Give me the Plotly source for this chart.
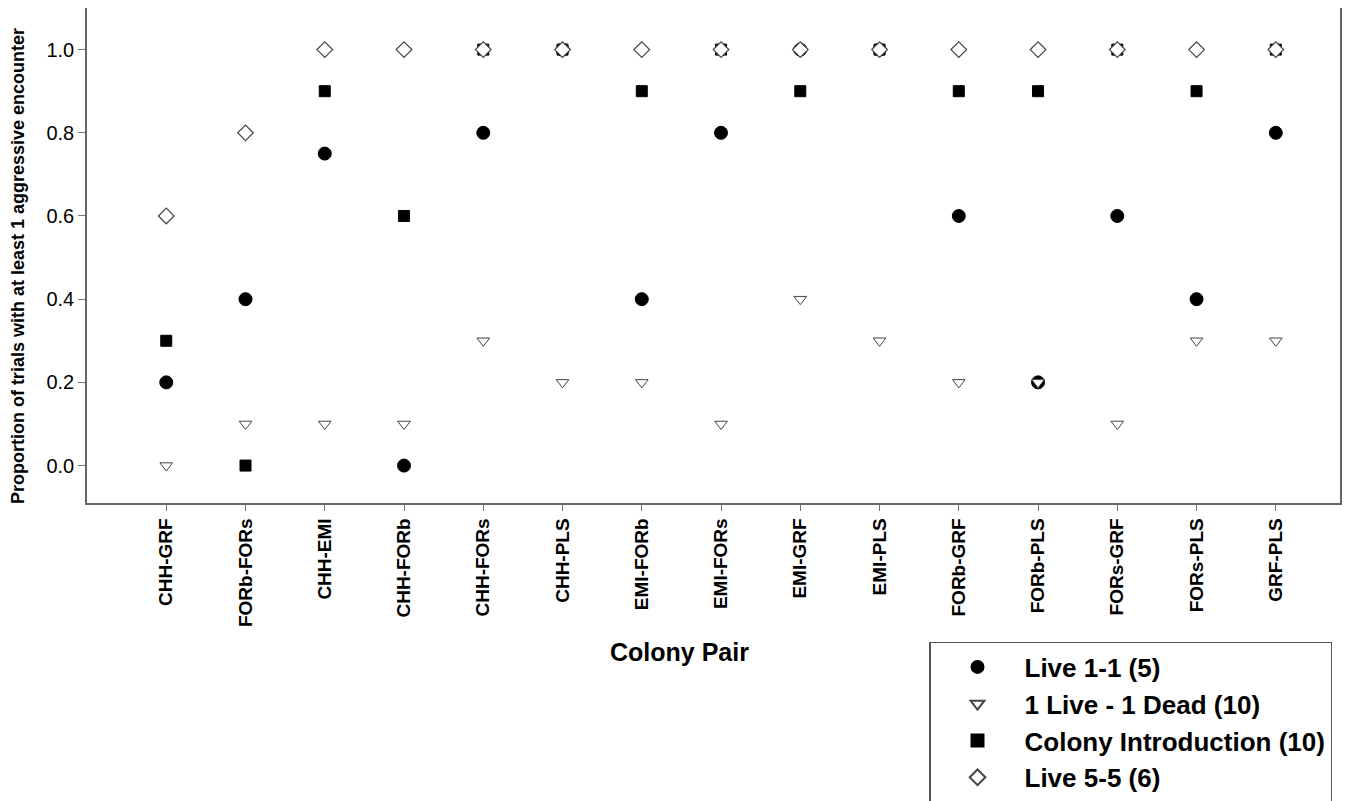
import plotly.graph_objects as go

pairs = ["CHH-GRF", "FORb-FORs", "CHH-EMI", "CHH-FORb", "CHH-FORs", "CHH-PLS",
         "EMI-FORb", "EMI-FORs", "EMI-GRF", "EMI-PLS", "FORb-GRF", "FORb-PLS",
         "FORs-GRF", "FORs-PLS", "GRF-PLS"]
live_1_1 = [0.2, 0.4, 0.75, 0.0, 0.8, 1.0, 0.4, 0.8, 1.0, 1.0, 0.6, 0.2, 0.6, 0.4, 0.8]
live_dead = [0.0, 0.1, 0.1, 0.1, 0.3, 0.2, 0.2, 0.1, 0.4, 0.3, 0.2, 0.2, 0.1, 0.3, 0.3]
colony_intro = [0.3, 0.0, 0.9, 0.6, 1.0, 1.0, 0.9, 1.0, 0.9, 1.0, 0.9, 0.9, 1.0, 0.9, 1.0]
live_5_5 = [0.6, 0.8, 1.0, 1.0, 1.0, 1.0, 1.0, 1.0, 1.0, 1.0, 1.0, 1.0, 1.0, 1.0, 1.0]

names = ["Live 1-1 (5)", "1 Live - 1 Dead (10)", "Colony Introduction (10)", "Live 5-5 (6)"]
yticks = [0.0, 0.2, 0.4, 0.6, 0.8, 1.0]

xi = list(range(len(pairs)))
FONT = "Arial, Liberation Sans, sans-serif"

fig = go.Figure()
# draw order: circle, square, triangle, diamond ; legend order via legendrank
fig.add_trace(go.Scatter(x=xi, y=live_1_1, mode="markers", name=names[0], legendrank=1,
                         marker=dict(symbol="circle", size=13, color="black",
                                     line=dict(color="black", width=1))))
fig.add_trace(go.Scatter(x=xi, y=colony_intro, mode="markers", name=names[2], legendrank=3,
                         marker=dict(symbol="square", size=11, color="black",
                                     line=dict(color="black", width=1))))
fig.add_trace(go.Scatter(x=xi, y=live_dead, mode="markers", name=names[1], legendrank=2,
                         marker=dict(symbol="triangle-down", size=11, color="white",
                                     line=dict(color="#444444", width=1))))
fig.add_trace(go.Scatter(x=xi, y=live_5_5, mode="markers", name=names[3], legendrank=4,
                         marker=dict(symbol="diamond", size=12, color="white",
                                     line=dict(color="#444444", width=1.2))))

fig.update_layout(
    width=1350, height=793,
    margin=dict(l=79, r=18, t=0, b=298, autoexpand=False),
    paper_bgcolor="white", plot_bgcolor="white",
    font=dict(family=FONT, color="black"),
    showlegend=True,
    legend=dict(x=0.672, y=-0.2808, xanchor="left", yanchor="top",
                bordercolor="#555555", borderwidth=1.5, bgcolor="white",
                font=dict(size=26, family=FONT, weight="bold"),
                itemsizing="constant", itemwidth=84, tracegroupgap=0,
                traceorder="normal", indentation=0),
    xaxis=dict(range=[-1.0, 14.81], tickmode="array", tickvals=xi, ticktext=pairs,
               tickangle=-90, ticks="outside", ticklen=6, tickcolor="#777777",
               tickfont=dict(size=19, family=FONT, weight="bold"),
               showline=True, linecolor="#666666", linewidth=1.5, mirror=True,
               showgrid=False, zeroline=False, automargin=False),
    yaxis=dict(range=[-0.09, 1.1], tickmode="array",
               tickvals=yticks, ticktext=[f"{v:.1f}" for v in yticks],
               ticks="outside", ticklen=7, tickcolor="#777777",
               tickfont=dict(size=20, family=FONT),
               showline=True, linecolor="#666666", linewidth=1.5, mirror=True,
               showgrid=False, zeroline=False, automargin=False),
    annotations=[
        dict(text="Colony Pair", xref="x", yref="paper",
             x=6.48, y=-0.301, xanchor="center", yanchor="middle",
             showarrow=False, font=dict(size=25, family=FONT, weight="bold")),
        dict(text="Proportion of trials with at least 1 aggressive encounter",
             xref="paper", yref="paper", x=-0.0545, y=0.478, textangle=-90,
             xanchor="center", yanchor="middle", showarrow=False,
             font=dict(size=18, family=FONT, weight="bold")),
    ],
)

fig.write_html("out.html")
